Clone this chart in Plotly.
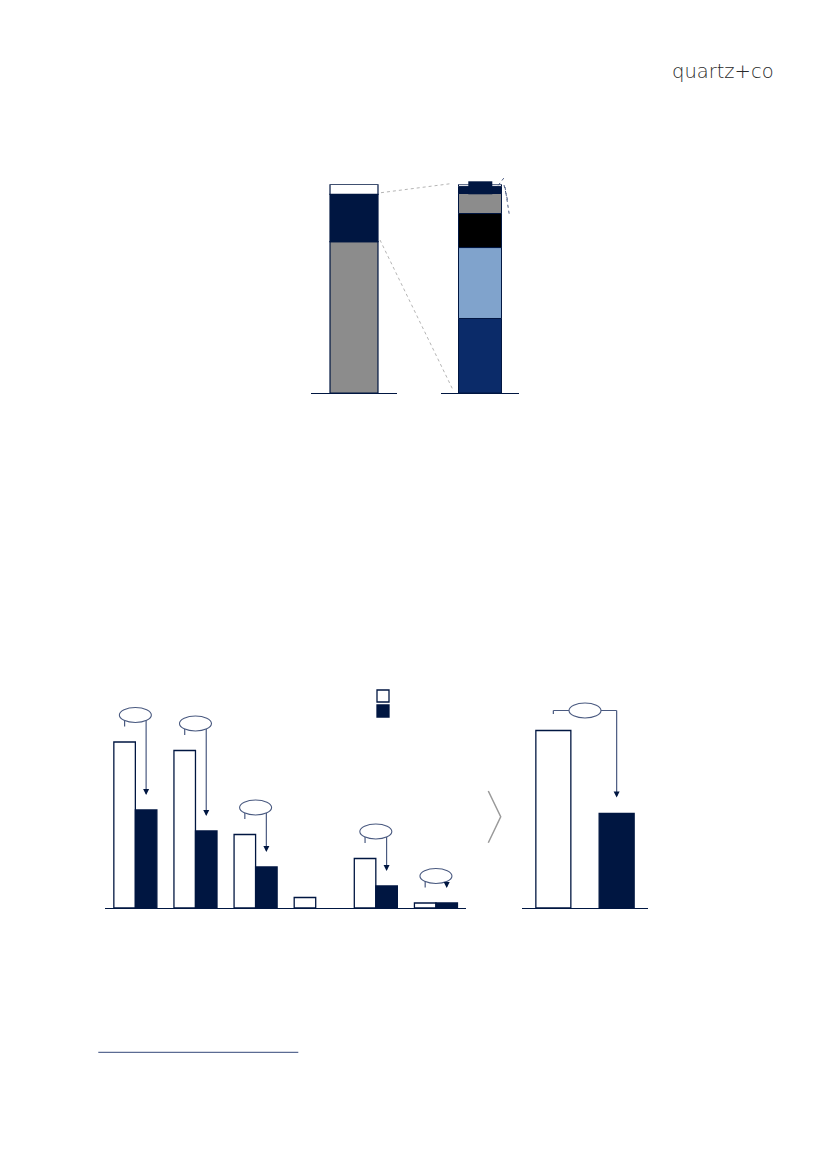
import plotly.graph_objects as go

W, H = 827, 1169
OFF = 8  # page body margin of the html page

# ---------------- data ----------------
# top chart: left bar (bottom -> top), share of total in %
top_left_segments = ["Segment A", "Segment B", "Segment C"]
top_left_values = [72.5, 22.7, 4.8]
# top chart: right bar = breakdown of Segment B (bottom -> top), %
top_right_segments = ["B1", "B2", "B3", "B4", "B5", "B6"]
top_right_values = [35.7, 34.0, 16.3, 9.6, 3.4, 1.0]

# bottom-left chart: grouped bars
categories = ["Cat 1", "Cat 2", "Cat 3", "Cat 4", "Cat 5", "Cat 6"]
before_values = [33.2, 31.5, 14.7, 2.1, 9.9, 1.0]
after_values = [19.6, 15.4, 8.2, None, 4.4, 1.0]

# bottom-right chart: totals
total_labels = ["Before", "After"]
total_values = [35.5, 18.9]

# ---------------- styles ----------------
NAVY = "#001641"
LINE_NAVY = "#4a5a80"
top_left_colors = ["#8c8c8c", NAVY, "#ffffff"]
top_right_colors = ["#0b2b69", "#80a3cc", "#000000", "#8c8c8c", NAVY, "#ffffff"]


def px(x):
    return (x - OFF) / W


def py(y):
    return 1 - (y - OFF) / H


fig = go.Figure()

# ---- top chart, left bar (stacked via base) ----
base = 0
for name, v, c in zip(top_left_segments, top_left_values, top_left_colors):
    fig.add_trace(go.Bar(x=[0], y=[v], base=[base], name=name, width=0.558,
                         marker=dict(color=c, line=dict(color=NAVY, width=1.2)),
                         xaxis="x", yaxis="y", showlegend=False, hoverinfo="skip"))
    base += v

# ---- top chart, right bar ----
base = 0
for name, v, c in zip(top_right_segments, top_right_values, top_right_colors):
    fig.add_trace(go.Bar(x=[0], y=[v], base=[base], name=name, width=0.551,
                         marker=dict(color=c, line=dict(color=NAVY, width=1.0)),
                         xaxis="x2", yaxis="y2", showlegend=False, hoverinfo="skip"))
    base += v

# ---- bottom-left grouped bars ----
xi = list(range(len(categories)))
BW = 0.358
fig.add_trace(go.Bar(x=xi, y=before_values, width=BW, offset=-BW, name=" ",
                     marker=dict(color="#ffffff", line=dict(color=NAVY, width=1.3)),
                     xaxis="x3", yaxis="y3", legend="legend"))
fig.add_trace(go.Bar(x=xi, y=after_values, width=BW, offset=0, name=" ",
                     marker=dict(color=NAVY, line=dict(color=NAVY, width=1.3)),
                     xaxis="x3", yaxis="y3", legend="legend2"))

# ---- bottom-right totals ----
fig.add_trace(go.Bar(x=[0, 1], y=total_values, width=0.553,
                     marker=dict(color=["#ffffff", NAVY], line=dict(color=NAVY, width=1.3)),
                     xaxis="x4", yaxis="y4", showlegend=False, hoverinfo="skip"))

shapes = []
annotations = []

# bottom chart pixel scale
Y_PX = 220.0
Y_MAX = 44.0
PPU = Y_PX / Y_MAX


def bracket(xref, yref, xl, xr, top, off_px, tick_px, tip_val, gap_px):
    yb = top + off_px / PPU
    xm = (xl + xr) / 2
    line = dict(color=LINE_NAVY, width=1.2)
    shapes.append(dict(type="line", xref=xref, yref=yref, x0=xl, x1=xr, y0=yb, y1=yb,
                       line=line))
    shapes.append(dict(type="line", xref=xref, yref=yref, x0=xl, x1=xl, y0=yb,
                       y1=yb - tick_px / PPU, line=line))
    tip = tip_val + gap_px / PPU
    shapes.append(dict(type="line", xref=xref, yref=yref, x0=xr, x1=xr, y0=yb,
                       y1=tip + 4 / PPU, line=line))
    annotations.append(dict(xref=xref, yref=yref, x=xr, y=tip, ax=0, ay=-7,
                            text="", showarrow=True, arrowhead=2, arrowsize=1,
                            arrowwidth=1.2, arrowcolor=NAVY, standoff=0))
    shapes.append(dict(type="circle", xref=xref, yref=yref, xsizemode="pixel",
                       ysizemode="pixel", xanchor=xm, yanchor=yb, x0=-16, x1=16,
                       y0=-7.5, y1=7.5, fillcolor="#ffffff",
                       line=dict(color=LINE_NAVY, width=1.1)))


for i, (b, a) in enumerate(zip(before_values, after_values)):
    if a:
        bracket("x3", "y3", i - BW / 2, i + BW / 2, max(b, a), 27, 11.5, a, 15)

bracket("x4", "y4", 0, 1, max(total_values), 20, 3.6, total_values[1], 16)

# top chart decorations
shapes.append(dict(type="line", xref="paper", yref="paper", x0=px(381), y0=py(192.7),
                   x1=px(452), y1=py(183.5), line=dict(color="#b5b5b5", width=1, dash="dot")))
shapes.append(dict(type="line", xref="paper", yref="paper", x0=px(380), y0=py(240),
                   x1=px(453.5), y1=py(391), line=dict(color="#b5b5b5", width=1, dash="dot")))
shapes.append(dict(type="rect", xref="paper", yref="paper", x0=px(468.3), x1=px(492.3),
                   y0=py(194.3), y1=py(181.3), fillcolor=NAVY, line=dict(width=0)))
for (x0, y0, x1, y1) in [(498.3, 185.3, 505, 176.5), (504, 185, 507.5, 200),
                         (505, 187, 509.5, 216)]:
    shapes.append(dict(type="line", xref="paper", yref="paper", x0=px(x0), y0=py(y0),
                       x1=px(x1), y1=py(y1), line=dict(color="#4a5a80", width=1, dash="dot")))

# chevron between bottom charts
shapes.append(dict(type="path", xref="paper", yref="paper",
                   path=f"M {px(488.3)} {py(791)} L {px(500.7)} {py(816.8)} L {px(488.3)} {py(842.7)}",
                   line=dict(color="#9a9a9a", width=1.5)))

# footnote separator
shapes.append(dict(type="line", xref="paper", yref="paper", x0=px(98.3), x1=px(298.3),
                   y0=py(1052.3), y1=py(1052.3), line=dict(color="#5b6b93", width=1.3)))

# logo
annotations.append(dict(xref="paper", yref="paper", x=px(722.5), y=py(72), text="quartz+co",
                        showarrow=False, xanchor="center", yanchor="middle",
                        font=dict(family="DejaVu Sans", size=19.5, color="#2a2a2a", weight=200)))

axis_common = dict(showgrid=False, zeroline=False, showticklabels=False, ticks="",
                   fixedrange=True)
xline = dict(showline=True, linecolor=NAVY, linewidth=1.2)

leg_common = dict(xanchor="left", yanchor="top", font=dict(size=8, color="#ffffff"),
                  bgcolor="rgba(0,0,0,0)", itemwidth=30)

fig.update_layout(
    width=W, height=H,
    margin=dict(l=0, r=0, t=0, b=0),
    paper_bgcolor="#ffffff", plot_bgcolor="rgba(0,0,0,0)",
    barmode="overlay",
    showlegend=True,
    legend=dict(x=px(363), y=py(681.5), **leg_common),
    legend2=dict(x=px(363), y=py(696.5), **leg_common),
    xaxis=dict(domain=[px(311), px(397)], range=[-0.5, 0.5], anchor="y", **axis_common, **xline),
    yaxis=dict(domain=[py(393), py(184.3)], range=[0, 100], anchor="x", **axis_common),
    xaxis2=dict(domain=[px(441), px(519)], range=[-0.5, 0.5], anchor="y2", **axis_common, **xline),
    yaxis2=dict(domain=[py(393), py(184.3)], range=[0, 100], anchor="x2", **axis_common),
    xaxis3=dict(domain=[px(105.3), px(466)], range=[-0.5, len(categories) - 0.5], anchor="y3",
                **axis_common, **xline),
    yaxis3=dict(domain=[py(908), py(908 - Y_PX)], range=[0, Y_MAX], anchor="x3", **axis_common),
    xaxis4=dict(domain=[px(521.7), px(648.3)], range=[-0.5, 1.5], anchor="y4",
                **axis_common, **xline),
    yaxis4=dict(domain=[py(908), py(908 - Y_PX)], range=[0, Y_MAX], anchor="x4", **axis_common),
    shapes=shapes,
    annotations=annotations,
)

fig.write_html("out.html")
